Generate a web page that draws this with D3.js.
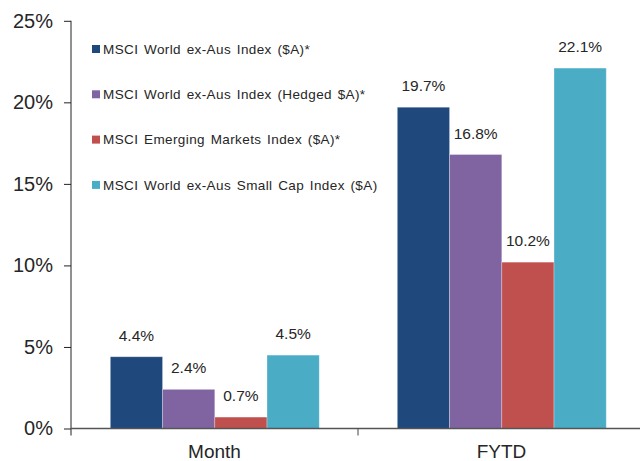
<!DOCTYPE html>
<html>
<head>
<meta charset="utf-8">
<script src="https://cdn.jsdelivr.net/npm/d3@7"></script>
<style>
  body { margin: 0; background: #fff; }
  svg { display: block; font-family: "Liberation Sans", Arial, sans-serif; }
</style>
</head>
<body>
<script>
// chart size
let width = 640, height = 461

// data
let categories = ["Month", "FYTD"]
let seriesNames = [
  "MSCI World ex-Aus Index ($A)*",
  "MSCI World ex-Aus Index (Hedged $A)*",
  "MSCI Emerging Markets Index ($A)*",
  "MSCI World ex-Aus Small Cap Index ($A)"
]
let monthValues = [4.4, 2.4, 0.7, 4.5]
let fytdValues = [19.7, 16.8, 10.2, 22.1]
let yTicks = [0, 5, 10, 15, 20, 25]
let colors = ["#1F497D", "#8064A2", "#C0504D", "#4BACC6"]

let rows = categories.map((c, i) => ({
  category: c,
  values: (i === 0 ? monthValues : fytdValues)
}))

let svg = d3.select("body").append("svg")
  .attr("width", width)
  .attr("height", height)

// scales
let y = d3.scaleLinear().domain([0, 25]).range([428.5, 20.8])
let x0 = d3.scaleBand().domain(categories).range([71, 645])
let bw = x0.bandwidth()
let x1 = d3.scaleBand().domain(d3.range(seriesNames.length)).range([bw * 0.137, bw * 0.865])

// bars
let group = svg.append("g")
  .selectAll("g")
  .data(rows)
  .join("g")
  .attr("transform", d => `translate(${x0(d.category)},0)`)

group.selectAll("rect")
  .data(d => d.values)
  .join("rect")
  .attr("x", (d, i) => x1(i))
  .attr("y", d => y(d))
  .attr("width", x1.bandwidth())
  .attr("height", d => y(0) - y(d))
  .attr("fill", (d, i) => colors[i])
  .attr("stroke", "#fff")
  .attr("stroke-opacity", 0.35)
  .attr("stroke-width", 0.8)

// value labels
group.selectAll("text")
  .data(d => d.values)
  .join("text")
  .attr("x", (d, i) => x1(i) + x1.bandwidth() / 2)
  .attr("y", d => y(d) - 16)
  .attr("text-anchor", "middle")
  .attr("font-size", 15.5)
  .attr("fill", "#262626")
  .text(d => d.toFixed(1) + "%")

// y axis
let yAxis = svg.append("g")
  .attr("transform", "translate(71,0)")
  .call(d3.axisLeft(y).tickValues(yTicks).tickSize(7).tickPadding(11).tickFormat(d => d + "%"))
yAxis.select(".domain").attr("d", `M0,${y(25)}V${y(0) + 7}`).attr("stroke", "#222")
yAxis.selectAll(".tick line").attr("stroke", "#222")
yAxis.selectAll(".tick text")
  .attr("font-size", 20)
  .attr("font-family", "Liberation Sans, Arial, sans-serif")
  .attr("fill", "#262626")

// x axis
let xAxis = svg.append("g")
  .attr("transform", `translate(0,${y(0)})`)
xAxis.append("line")
  .attr("x1", 71).attr("x2", width)
  .attr("stroke", "#555").attr("stroke-width", 1.5)
xAxis.selectAll(".sep")
  .data(categories.slice(1))
  .join("line")
  .attr("class", "sep")
  .attr("x1", d => x0(d)).attr("x2", d => x0(d))
  .attr("y1", 0).attr("y2", 7)
  .attr("stroke", "#444")
xAxis.selectAll(".cat")
  .data(categories)
  .join("text")
  .attr("class", "cat")
  .attr("x", d => x0(d) + bw / 2)
  .attr("y", 29)
  .attr("text-anchor", "middle")
  .attr("font-size", 19)
  .attr("fill", "#262626")
  .text(d => d)

// legend
let legend = svg.append("g")
  .selectAll("g")
  .data(seriesNames)
  .join("g")
  .attr("transform", (d, i) => `translate(92,${49 + i * 45.3})`)

legend.append("rect")
  .attr("x", 0).attr("y", -4)
  .attr("width", 8).attr("height", 8)
  .attr("fill", (d, i) => colors[i])

legend.append("text")
  .attr("x", 11)
  .attr("dy", "0.35em")
  .attr("font-size", 13.5)
  .attr("letter-spacing", 0.4)
  .attr("word-spacing", 1.5)
  .attr("fill", "#262626")
  .text(d => d)
</script>
</body>
</html>
